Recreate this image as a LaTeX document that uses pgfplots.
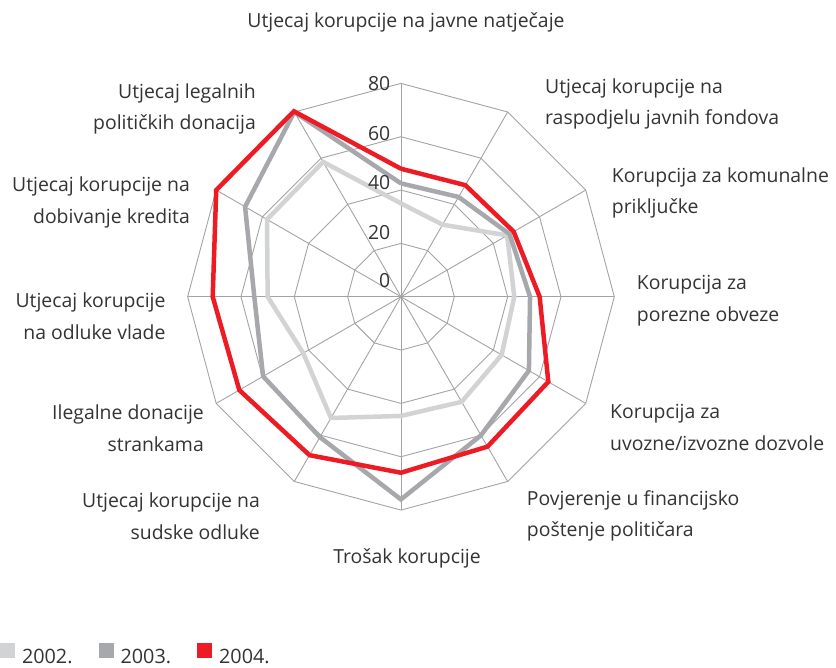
\documentclass[border=0pt]{standalone}
\usepackage{fontspec}
\setmainfont{Open Sans}
\usepackage{pgfplots}
\pgfplotsset{compat=1.18}
\definecolor{c02}{HTML}{D2D3D5}
\definecolor{c03}{HTML}{A7A8AC}
\definecolor{c04}{HTML}{ED1C24}
\definecolor{gridc}{HTML}{A3A3A3}
\definecolor{txt}{HTML}{333333}
\begin{document}
\begin{tikzpicture}[x=1bp,y=1bp]
\path (0,0) rectangle (836,-668);
\begin{axis}[
  at={(134.3bp,-563.4bp)}, anchor=south west,
  x=2.6667bp, y=2.6667bp,
  xmin=-100, xmax=100, ymin=-100, ymax=100,
  hide axis, clip=false,
  legend columns=3,
  legend cell align=left,
  legend style={at={(-0.2518,-0.1700)}, anchor=west, draw=none, fill=none,
    inner sep=0pt, outer sep=0pt,
    font=\fontsize{19.8bp}{22bp}\selectfont, text=txt,
    nodes={inner sep=0pt, outer sep=0pt},
    /tikz/every odd column/.append style={column sep=7bp},
    /tikz/every even column/.append style={column sep=26bp}},
  legend image code/.code={\fill[#1,draw=none] (0bp,-1.5bp) rectangle (15bp,13.5bp);},
]
% grid rings
\pgfplotsinvokeforeach{20,40,60,80}{
  \addplot[gridc, line width=0.9bp, data cs=polar, forget plot] coordinates {
    (90,#1) (60,#1) (30,#1) (0,#1) (-30,#1) (-60,#1) (-90,#1) (-120,#1) (-150,#1) (-180,#1) (-210,#1) (-240,#1) (-270,#1)};
}
% spokes
\pgfplotsinvokeforeach{90,60,30,0,-30,-60,-90,-120,-150,-180,-210,-240}{
  \addplot[gridc, line width=0.9bp, data cs=polar, forget plot] coordinates {(#1,0) (#1,80)};
}
% 2002
\addplot[c02, line width=4.5bp, line join=miter, data cs=polar] coordinates {
  (90,35) (60,31.2) (30,46) (0,42.5) (-30,43.6) (-60,45.5) (-90,44.7) (-120,52.5)
  (-150,42.3) (-180,50) (-210,58) (-240,58.4) (-270,35)};
\addlegendentry{2002.}
% 2003
\addplot[c03, line width=4.5bp, line join=miter, data cs=polar] coordinates {
  (90,42.5) (60,43.2) (30,47) (0,48.4) (-30,55.4) (-60,60) (-90,76) (-120,60.8)
  (-150,59.7) (-180,55) (-210,67.5) (-240,80) (-270,42.5)};
\addlegendentry{2003.}
% 2004
\addplot[c04, line width=4.5bp, line join=miter, data cs=polar] coordinates {
  (90,48) (60,48.3) (30,48.8) (0,52) (-30,63.8) (-60,64.9) (-90,66) (-120,68.6)
  (-150,70) (-180,70.6) (-210,80) (-240,80.3) (-270,48)};
\addlegendentry{2004.}
\end{axis}
\begin{scope}[every node/.style={text=txt, inner sep=0pt, font=\fontsize{19.4bp}{31.7bp}\selectfont}]
% radial tick labels
\node[anchor=east] at (390.5,-84) {80};
\node[anchor=east] at (390.5,-133.3) {60};
\node[anchor=east] at (390.5,-182.7) {40};
\node[anchor=east] at (390.5,-232.3) {20};
\node[anchor=east] at (390.5,-280.7) {0};
% category labels
\node[anchor=center] at (406,-22) {Utjecaj korupcije na javne natječaje};
\node[anchor=west, align=left] at (545,-104) {Utjecaj korupcije na\\raspodjelu javnih fondova};
\node[anchor=west, align=left] at (611.7,-193) {Korupcija za komunalne\\priključke};
\node[anchor=west, align=left] at (636.7,-301) {Korupcija za\\porezne obveze};
\node[anchor=west, align=left] at (610,-427.7) {Korupcija za\\uvozne/izvozne dozvole};
\node[anchor=west, align=left] at (526.7,-516) {Povjerenje u financijsko\\poštenje političara};
\node[anchor=center] at (407,-558) {Trošak korupcije};
\node[anchor=east, align=right] at (260,-516) {Utjecaj korupcije na\\sudske odluke};
\node[anchor=east, align=right] at (204,-428) {Ilegalne donacije\\strankama};
\node[anchor=east, align=right] at (165.7,-316) {Utjecaj korupcije\\na odluke vlade};
\node[anchor=east, align=right] at (190,-202.5) {Utjecaj korupcije na\\dobivanje kredita};
\node[anchor=east, align=right] at (256,-109) {Utjecaj legalnih\\političkih donacija};
\end{scope}
\end{tikzpicture}
\end{document}
